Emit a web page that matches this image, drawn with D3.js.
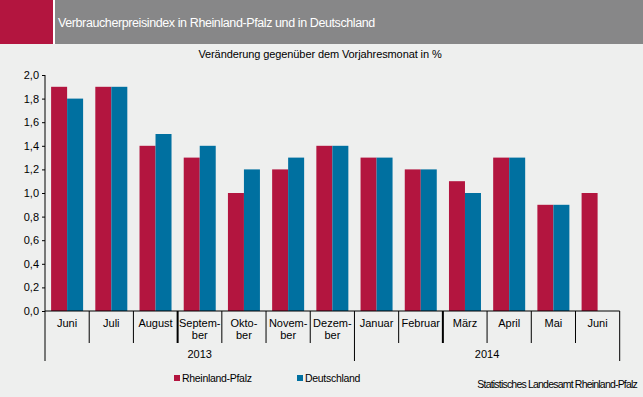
<!DOCTYPE html>
<html><head><meta charset="utf-8">
<script src="https://cdn.jsdelivr.net/npm/d3@7"></script>
<style>
html,body{margin:0;padding:0;background:#eeefee;}
svg text{font-family:"Liberation Sans",Arial,sans-serif;}
</style></head>
<body><svg id="c" width="643" height="397"></svg>
<script>
const months = [["Juni"],["Juli"],["August"],["Septem-","ber"],["Okto-","ber"],["Novem-","ber"],["Dezem-","ber"],["Januar"],["Februar"],["März"],["April"],["Mai"],["Juni"]];
const years = [{label:"2013", from:0, to:7},{label:"2014", from:7, to:13}];
const rlp = [1.9,1.9,1.4,1.3,1.0,1.2,1.4,1.3,1.2,1.1,1.3,0.9,1.0];
const de  = [1.8,1.9,1.5,1.4,1.2,1.3,1.4,1.3,1.2,1.0,1.3,0.9,null];
const yTicks = [0,0.2,0.4,0.6,0.8,1.0,1.2,1.4,1.6,1.8,2.0];
const seriesNames = ["Rheinland-Pfalz","Deutschland"];
const colors = ["#b3153f","#0070a0"];

const svg = d3.select("#c");
svg.append("rect").attr("x",0).attr("y",0).attr("width",53).attr("height",44).attr("fill","#b3153f");
svg.append("rect").attr("x",53).attr("y",0).attr("width",2).attr("height",44).attr("fill","#ffffff");
svg.append("rect").attr("x",55).attr("y",0).attr("width",588).attr("height",44).attr("fill","#878788");
svg.append("text").attr("x",58).attr("y",27).attr("fill","#fff").attr("font-size",12.5)
  .attr("letter-spacing",-0.4).text("Verbraucherpreisindex in Rheinland-Pfalz und in Deutschland");
svg.append("text").attr("x",320).attr("y",58).attr("text-anchor","middle").attr("fill","#000").attr("font-size",11)
  .attr("letter-spacing",-0.1).text("Veränderung gegenüber dem Vorjahresmonat in %");

const x0 = 45, x1 = 619.7, yb = 311, yt = 75;
const x = d3.scaleBand().domain(d3.range(months.length)).range([x0,x1]).paddingInner(0).paddingOuter(0);
const xs = d3.scaleBand().domain([0,1]).range([0,32]);
const y = d3.scaleLinear().domain([0,2]).range([yb,yt]);

const g = svg.append("g");
[rlp,de].forEach((arr,si)=>{
  g.selectAll(null).data(arr.map((v,i)=>({v,i})).filter(d=>d.v!=null)).enter().append("rect")
   .attr("x",d=>x(d.i)+(x.bandwidth()-32)/2+xs(si)).attr("width",xs.bandwidth())
   .attr("y",d=>y(d.v)).attr("height",d=>yb-y(d.v)).attr("fill",colors[si]);
});

// y axis
const ya = svg.append("g").attr("transform",`translate(${x0},0)`)
  .call(d3.axisLeft(y).tickValues(yTicks).tickSize(3).tickFormat(d=>d3.format(".1f")(d).replace(".",",")));
ya.select(".domain").attr("stroke","#000").attr("d",`M0,${yt}V${yb}`);
ya.selectAll(".tick line").attr("stroke","#000");
ya.selectAll("text").attr("font-size",11).attr("fill","#000").attr("x",-6).attr("font-family","Liberation Sans, Arial, sans-serif");

// x axis line
svg.append("line").attr("x1",x0).attr("x2",x1).attr("y1",yb).attr("y2",yb).attr("stroke","#000");
// month ticks
const bounds = d3.range(months.length+1);
svg.selectAll(null).data(bounds).enter().append("line")
  .attr("x1",i=>i<months.length?x(i):x1).attr("x2",i=>i<months.length?x(i):x1)
  .attr("y1",yb).attr("y2",i=>(i===0||i===7||i===13)?361:343)
  .attr("stroke","#000").attr("stroke-width",i=>(i===3||i===9)?2:1);
// month labels
months.forEach((m,i)=>{
  const t = svg.append("text").attr("x",x(i)+x.bandwidth()/2).attr("text-anchor","middle").attr("font-size",11).attr("fill","#000");
  m.forEach((line,k)=>t.append("tspan").attr("x",x(i)+x.bandwidth()/2).attr("y",327+k*12).text(line));
});
years.forEach(yr=>{
  svg.append("text").attr("x",(x(yr.from)+(yr.to<months.length?x(yr.to):x1))/2).attr("y",358)
    .attr("text-anchor","middle").attr("font-size",11).attr("fill","#000").text(yr.label);
});

// legend
const legX = [174,297];
seriesNames.forEach((n,i)=>{
  svg.append("rect").attr("x",legX[i]).attr("y",375).attr("width",6).attr("height",6).attr("fill",colors[i]);
  svg.append("text").attr("x",legX[i]+8).attr("y",381.5).attr("font-size",10.5).attr("letter-spacing",-0.3).attr("fill","#000").text(n);
});
svg.append("text").attr("x",637).attr("y",388).attr("text-anchor","end").attr("font-size",10.5).attr("letter-spacing",-0.8).attr("fill","#000").text("Statistisches Landesamt Rheinland-Pfalz");
</script></body></html>
